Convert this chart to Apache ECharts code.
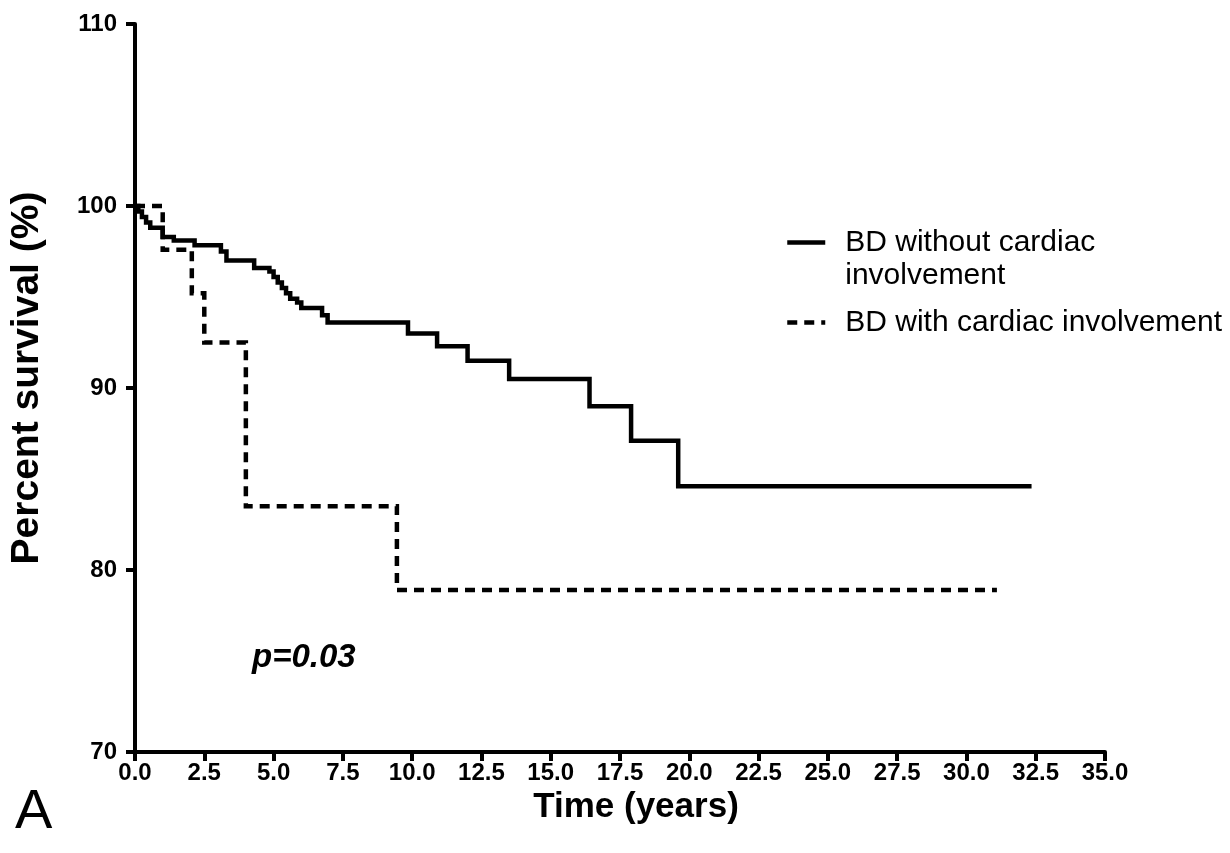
<!DOCTYPE html>
<html>
<head>
<meta charset="utf-8">
<title>Survival</title>
<script src="https://cdn.jsdelivr.net/npm/echarts@6/dist/echarts.min.js"></script>
<style>
  html, body { margin: 0; padding: 0; background: #fff; }
  #chart { width: 1230px; height: 853px; }
</style>
</head>
<body>
<div id="chart"></div>
<script>
// BD without cardiac involvement (time in years, survival % after each step)
const noCardiacTime = [0, 0.12, 0.25, 0.4, 0.55, 1.0, 1.4, 2.15, 3.1, 3.3, 4.3, 4.85, 5.0, 5.15, 5.3, 5.45, 5.6, 5.85, 6.0, 6.75, 6.95, 9.85, 10.9, 12.0, 13.5, 16.4, 17.9, 19.6, 32.35];
const noCardiacSurv = [100, 99.7, 99.4, 99.1, 98.8, 98.3, 98.1, 97.85, 97.5, 97.0, 96.6, 96.4, 96.1, 95.8, 95.5, 95.2, 94.9, 94.7, 94.4, 94.0, 93.6, 93.0, 92.3, 91.5, 90.5, 89.0, 87.1, 84.6, 84.6];

// BD with cardiac involvement
const cardiacTime = [0, 1.0, 2.05, 2.5, 4.0, 9.45, 31.1];
const cardiacSurv = [100, 97.6, 95.2, 92.5, 83.5, 78.9, 78.9];

const seriesNames = ['BD without cardiac involvement', 'BD with cardiac involvement'];
const xTicks = { min: 0, max: 35, step: 2.5 };
const yTicks = { min: 70, max: 110, step: 10 };

const toPairs = (t, s) => t.map((v, i) => [v, s[i]]);

const chart = echarts.init(document.getElementById('chart'));
const font = 'Liberation Sans, Arial, Helvetica, sans-serif';

chart.setOption({
    animation: false,
    backgroundColor: '#fff',
    grid: { left: 135, right: 125, top: 24, bottom: 101 },
    legend: {
        orient: 'vertical',
        left: 785,
        top: 193,
        padding: 0,
        itemWidth: 38,
        itemHeight: 20,
        itemGap: 14,
        itemStyle: { opacity: 0 },
        lineStyle: { width: 4.5 },
        // blank first line keeps the first text line level with its sample line
        formatter: name => name === seriesNames[0] ? ' \nBD without cardiac\ninvolvement' : name,
        textStyle: { fontFamily: font, fontSize: 30, lineHeight: 33, color: '#000', padding: [0, 0, 0, 15] },
        data: seriesNames
    },
    xAxis: {
        type: 'value',
        min: xTicks.min,
        max: xTicks.max,
        interval: xTicks.step,
        name: 'Time (years)',
        nameLocation: 'middle',
        nameGap: 34,
        nameTextStyle: { fontFamily: font, fontSize: 35, fontWeight: 'bold', color: '#000', padding: [0, 0, 0, 32] },
        axisLine: { lineStyle: { color: '#000', width: 4 } },
        axisTick: { length: 9, lineStyle: { color: '#000', width: 4 } },
        axisLabel: {
            fontFamily: font, fontSize: 24, fontWeight: 'bold', color: '#000', margin: 9,
            formatter: v => v.toFixed(1)
        },
        splitLine: { show: false }
    },
    yAxis: {
        type: 'value',
        min: yTicks.min,
        max: yTicks.max,
        interval: yTicks.step,
        name: 'Percent survival (%)',
        nameLocation: 'middle',
        nameGap: 88,
        nameTextStyle: { fontFamily: font, fontSize: 39, fontWeight: 'bold', color: '#000', padding: [0, 0, 0, 20] },
        axisLine: { show: true, lineStyle: { color: '#000', width: 4 } },
        axisTick: { show: true, length: 9, lineStyle: { color: '#000', width: 4 } },
        axisLabel: { fontFamily: font, fontSize: 24, fontWeight: 'bold', color: '#000', margin: 18 },
        splitLine: { show: false }
    },
    series: [
        {
            name: seriesNames[0],
            type: 'line',
            step: 'end',
            symbol: 'none',
            data: toPairs(noCardiacTime, noCardiacSurv),
            lineStyle: { color: '#000', width: 4.5, join: 'miter' },
            itemStyle: { color: '#000' }
        },
        {
            name: seriesNames[1],
            type: 'line',
            step: 'end',
            symbol: 'none',
            data: toPairs(cardiacTime, cardiacSurv),
            lineStyle: { color: '#000', width: 4.5, type: [10, 7], join: 'miter' },
            itemStyle: { color: '#000' }
        }
    ],
    graphic: [
        {
            type: 'text', left: 252, top: 641,
            style: { text: 'p=0.03', fontFamily: font, fontSize: 33, fontWeight: 'bold', fontStyle: 'italic', fill: '#000' }
        },
        {
            type: 'text', left: 15, top: 785,
            style: { text: 'A', fontFamily: font, fontSize: 56, fill: '#000' }
        }
    ]
});
</script>
</body>
</html>
